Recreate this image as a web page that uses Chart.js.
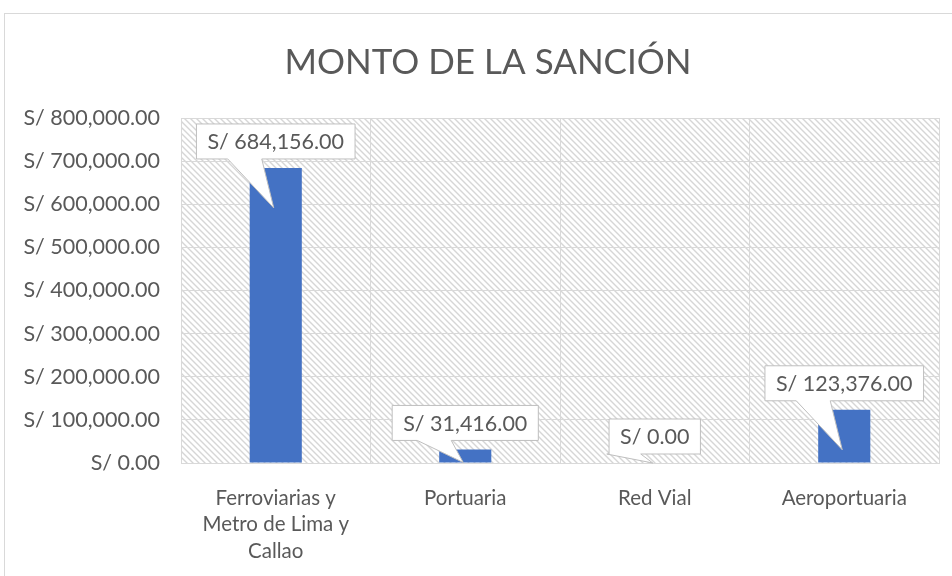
<!DOCTYPE html>
<html>
<head>
<meta charset="utf-8">
<script src="https://cdn.jsdelivr.net/npm/chart.js@4.4.0/dist/chart.umd.min.js"></script>
<style>
  html, body { margin: 0; padding: 0; background: #fff; }
  #marco { position: absolute; left: 4px; top: 13px; width: 960px; height: 580px; border: 1px solid #d9d9d9; }
  #lienzo { position: absolute; left: 0; top: 0; }
</style>
</head>
<body>
<div id="marco"></div>
<canvas id="lienzo" width="952" height="576"></canvas>
<script>
// Datos del gráfico
const categorias = [['Ferroviarias y', 'Metro de Lima y', 'Callao'], 'Portuaria', 'Red Vial', 'Aeroportuaria'];
const montos = [684156, 31416, 0, 123376];
const titulo = 'MONTO DE LA SANCIÓN';
const ejeMin = 0;
const ejeMax = 800000;
const ejePaso = 100000;

const gris = '#595959';
const fuente = 'Lato, "Open Sans", sans-serif';

function formatoSoles(v) {
    return 'S/ ' + Number(v).toLocaleString('en-US', { minimumFractionDigits: 2, maximumFractionDigits: 2 });
}

// Patrón de rayas diagonales para el fondo del área de trazado
function crearPatron(ctx) {
    const c = document.createElement('canvas');
    c.width = 6; c.height = 6;
    const p = c.getContext('2d');
    p.fillStyle = '#ffffff';
    p.fillRect(0, 0, 6, 6);
    p.strokeStyle = '#d6d6d6';
    p.lineWidth = 1.4;
    p.beginPath();
    p.moveTo(-1, -1); p.lineTo(7, 7);
    p.moveTo(-4, 2); p.lineTo(4, 10);
    p.moveTo(2, -4); p.lineTo(10, 4);
    p.stroke();
    return ctx.createPattern(c, 'repeat');
}

// Fondo rayado + centrar el título sobre todo el marco
const fondoPlugin = {
    id: 'fondo',
    afterLayout(chart) {
        chart.titleBlock.left = 37;
    },
    beforeDraw(chart) {
        const { ctx, chartArea: a } = chart;
        ctx.save();
        ctx.fillStyle = crearPatron(ctx);
        ctx.fillRect(a.left, a.top, a.right - a.left, a.bottom - a.top);
        ctx.strokeStyle = '#d9d9d9';
        ctx.lineWidth = 1;
        ctx.strokeRect(a.left + 0.5, a.top + 0.5, a.right - a.left, a.bottom - a.top);
        ctx.restore();
    }
};

// Etiquetas tipo globo (callout)
const calloutPlugin = {
    id: 'callout',
    afterDatasetsDraw(chart) {
        const { ctx } = chart;
        const meta = chart.getDatasetMeta(0);
        ctx.save();
        ctx.font = '21.5px ' + fuente;
        meta.data.forEach((bar, i) => {
            const texto = formatoSoles(montos[i]);
            const w = ctx.measureText(texto).width + 22;
            const h = 35;
            const cx = bar.x;
            const abajo = bar.y - 9;
            const arriba = abajo - h;
            const izq = cx - w / 2;
            const puntaY = Math.min(bar.y + 40, bar.base);
            const puntaX = cx - 2;
            ctx.beginPath();
            ctx.moveTo(izq, arriba);
            ctx.lineTo(izq + w, arriba);
            ctx.lineTo(izq + w, abajo);
            ctx.lineTo(cx - 14, abajo);
            ctx.lineTo(puntaX, puntaY);
            ctx.lineTo(cx - 48, abajo);
            ctx.lineTo(izq, abajo);
            ctx.closePath();
            ctx.fillStyle = '#ffffff';
            ctx.fill();
            ctx.strokeStyle = '#bfbfbf';
            ctx.lineWidth = 1;
            ctx.stroke();
            ctx.fillStyle = gris;
            ctx.textAlign = 'center';
            ctx.textBaseline = 'middle';
            ctx.fillText(texto, cx, arriba + h / 2 + 1);
        });
        ctx.restore();
    }
};

const ctx = document.getElementById('lienzo').getContext('2d');
new Chart(ctx, {
    type: 'bar',
    data: {
        labels: categorias,
        datasets: [{
            data: montos,
            backgroundColor: '#4472c4',
            barPercentage: 0.55,
            categoryPercentage: 0.5
        }]
    },
    options: {
        responsive: false,
        animation: false,
        layout: { padding: { left: 2, right: 13, top: 30, bottom: 1 } },
        plugins: {
            legend: { display: false },
            tooltip: { enabled: false },
            title: {
                display: true,
                text: titulo,
                color: gris,
                font: { family: fuente, size: 35, weight: 'normal' },
                padding: { top: 12, bottom: 34 }
            }
        },
        scales: {
            x: {
                grid: { color: '#d9d9d9', offset: true, drawTicks: false },
                border: { color: '#d9d9d9' },
                afterFit: s => { s.height = 112; },
                ticks: {
                    color: gris,
                    font: { family: fuente, size: 20.5, lineHeight: 1.29 },
                    padding: 22,
                    maxRotation: 0,
                    autoSkip: false
                }
            },
            y: {
                min: ejeMin,
                max: ejeMax,
                grid: { color: '#d9d9d9', drawTicks: false },
                border: { display: false },
                afterFit: s => { s.width = 179; },
                ticks: {
                    stepSize: ejePaso,
                    color: gris,
                    font: { family: fuente, size: 21.5 },
                    padding: 21,
                    callback: v => formatoSoles(v)
                }
            }
        }
    },
    plugins: [fondoPlugin, calloutPlugin]
});
</script>
</body>
</html>
